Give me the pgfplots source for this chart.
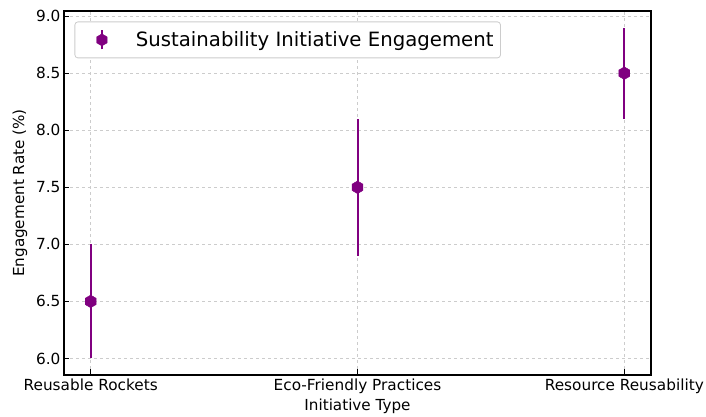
\documentclass[border=0pt]{standalone}
\usepackage{pgfplots}
\pgfplotsset{compat=1.18}
\usepackage{fontspec}
\setmainfont{DejaVu Sans}
\definecolor{engpurple}{HTML}{800080}
\definecolor{gridgray}{HTML}{CCCCCC}

% flat-sided hexagon, pointy at top and bottom
\pgfdeclareplotmark{hexagon}{%
  \pgfpathmoveto{\pgfqpointpolar{90}{\pgfplotmarksize}}%
  \pgfpathlineto{\pgfqpointpolar{150}{\pgfplotmarksize}}%
  \pgfpathlineto{\pgfqpointpolar{210}{\pgfplotmarksize}}%
  \pgfpathlineto{\pgfqpointpolar{270}{\pgfplotmarksize}}%
  \pgfpathlineto{\pgfqpointpolar{330}{\pgfplotmarksize}}%
  \pgfpathlineto{\pgfqpointpolar{30}{\pgfplotmarksize}}%
  \pgfpathclose
  \pgfusepathqfillstroke}

\begin{document}
\begin{tikzpicture}
\begin{axis}[
  scale only axis,
  at={(0,0)}, anchor=south west,
  width=587pt, height=364pt,
  xmin=-0.1, xmax=2.1,
  ymin=5.855, ymax=9.045,
  xtick={0,1,2},
  xticklabels={Reusable Rockets, Eco-Friendly Practices, Resource Reusability},
  ytick={6.0,6.5,7.0,7.5,8.0,8.5,9.0},
  yticklabel style={/pgf/number format/.cd, fixed, fixed zerofill, precision=1},
  /pgf/number format/assume math mode=true,
  tick align=inside,
  xtick pos=bottom, ytick pos=left,
  major tick length=5.5pt,
  tick style={black, line width=0.8pt},
  ticklabel style={font=\fontsize{15.3}{17}\selectfont},
  xlabel={Initiative Type},
  ylabel={Engagement Rate (\%)},
  label style={font=\fontsize{15.2}{17}\selectfont},
  xlabel style={at={(axis description cs:0.5,-0.0852)}, anchor=center},
  ylabel style={at={(axis description cs:-0.075,0.5)}, anchor=center},
  grid=major,
  grid style={gridgray, dashed, line width=0.6pt},
  axis line style={black, line width=1.1pt},
  legend style={
    at={(rel axis cs:0,1)}, anchor=north west, xshift=10.5pt, yshift=-10.5pt,
    draw=gridgray, rounded corners=3pt, line width=0.8pt,
    font=\fontsize{19.7}{22}\selectfont,
    inner xsep=5pt, inner ysep=7.5pt,
    cells={anchor=west},
  },
  legend image code/.code={
    \path[draw=none, fill=none] (0pt,0pt) -- (54pt,0pt);
    \draw[engpurple, solid, line width=2pt] (22pt,-9.5pt) -- (22pt,9.5pt);
    \draw[mark=hexagon, mark size=6pt, engpurple, mark options={solid, fill=engpurple, draw=engpurple, line width=0.4pt}] plot coordinates {(22pt,0pt)};
  },
]
\addplot[
  engpurple, only marks,
  mark=hexagon, mark size=6.3pt,
  mark options={solid, fill=engpurple, draw=engpurple, line width=0.4pt},
  error bars/.cd, y dir=both, y explicit,
  error bar style={draw=engpurple, solid, line width=2pt},
  error mark=none,
] coordinates {
  (0, 6.5) +- (0, 0.5)
  (1, 7.5) +- (0, 0.6)
  (2, 8.5) +- (0, 0.4)
};
\addlegendentry{Sustainability Initiative Engagement}
\end{axis}
\pgfresetboundingbox
\useasboundingbox (-64pt,-42pt) rectangle (642pt,375pt);
\end{tikzpicture}
\end{document}
